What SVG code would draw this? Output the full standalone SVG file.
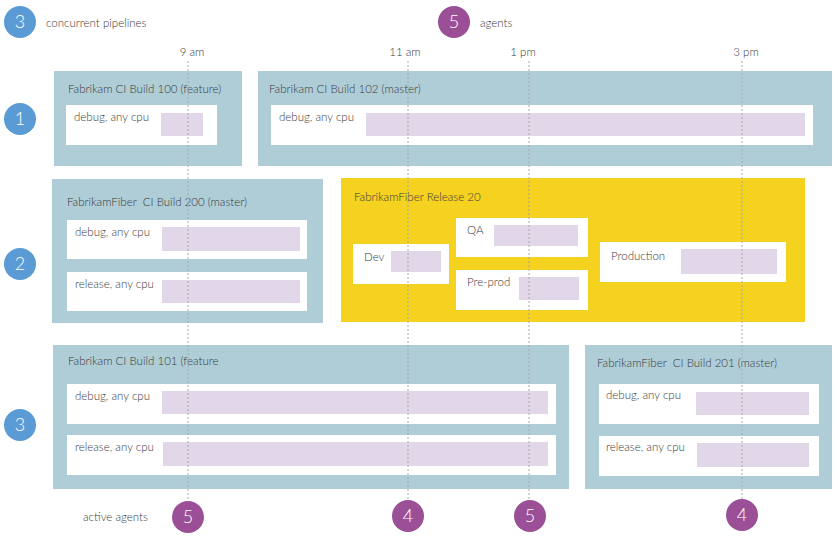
<svg xmlns="http://www.w3.org/2000/svg" width="838" height="538" viewBox="0 0 838 538">
  <style>
    text { font-family: Lato, "Open Sans", "Liberation Sans", sans-serif; font-size: 11.5px; font-weight: 300; fill: #3a3a3a; white-space: pre; }
    .num { fill: #fff; font-size: 18px; text-anchor: middle; }
    .time { text-anchor: middle; }
    .pipe { fill: #afcdd7; }
    .release { fill: #f5d120; }
    .job { fill: #fff; }
    .bar { fill: #e2d7e9; }
    .lane { fill: #5b9bd5; }
    .agent { fill: #9b4f96; }
    .marker { stroke: #a8a8a8; stroke-width: 1; stroke-dasharray: 2 2; fill: none; }
  </style>

  <!-- legend -->
  <g id="legend-pipelines">
    <circle class="lane" cx="20" cy="22" r="16"/>
    <text class="num" x="20" y="28">3</text>
    <text x="46" y="27">concurrent pipelines</text>
  </g>
  <g id="legend-agents">
    <circle class="agent" cx="454" cy="22" r="16"/>
    <text class="num" x="454" y="28">5</text>
    <text x="480" y="27">agents</text>
  </g>

  <!-- time axis labels -->
  <g id="time-labels">
    <text class="time" x="192" y="56">9 am</text>
    <text class="time" x="405" y="56">11 am</text>
    <text class="time" x="523" y="56">1 pm</text>
    <text class="time" x="746" y="56">3 pm</text>
  </g>

  <!-- lane numbers -->
  <g id="lane-1"><circle class="lane" cx="20" cy="119" r="16"/><text class="num" x="20" y="125">1</text></g>
  <g id="lane-2"><circle class="lane" cx="20" cy="264" r="16"/><text class="num" x="20" y="270">2</text></g>
  <g id="lane-3"><circle class="lane" cx="20" cy="425" r="16"/><text class="num" x="20" y="431">3</text></g>

  <!-- lane 1 -->
  <g id="build-100">
    <rect class="pipe" x="54" y="71" width="188" height="95"/>
    <text x="68" y="93">Fabrikam CI Build 100 (feature)</text>
    <rect class="job" x="66" y="105" width="151" height="40"/>
    <text x="74" y="121">debug, any cpu</text>
    <rect class="bar" x="161" y="113" width="42" height="23"/>
  </g>
  <g id="build-102">
    <rect class="pipe" x="258" y="71" width="574" height="95"/>
    <text x="269" y="93">Fabrikam CI Build 102 (master)</text>
    <rect class="job" x="271" y="105" width="542" height="40"/>
    <text x="279" y="121">debug, any cpu</text>
    <rect class="bar" x="366" y="113" width="439" height="23"/>
  </g>

  <!-- lane 2 -->
  <g id="build-200">
    <rect class="pipe" x="52" y="179" width="271" height="144"/>
    <text x="67" y="206">FabrikamFiber  CI Build 200 (master)</text>
    <rect class="job" x="67" y="220" width="240" height="39"/>
    <text x="75" y="236">debug, any cpu</text>
    <rect class="bar" x="162" y="227" width="138" height="24"/>
    <rect class="job" x="67" y="272" width="240" height="39"/>
    <text x="75" y="288">release, any cpu</text>
    <rect class="bar" x="162" y="280" width="138" height="23"/>
  </g>
  <g id="release-20">
    <rect class="release" x="341" y="178" width="464" height="144"/>
    <text x="354" y="201">FabrikamFiber Release 20</text>
    <g id="stage-dev">
      <rect class="job" x="353" y="244" width="96" height="40"/>
      <text x="364" y="261">Dev</text>
      <rect class="bar" x="391" y="251" width="50" height="21"/>
    </g>
    <g id="stage-qa">
      <rect class="job" x="456" y="218" width="132" height="39"/>
      <text x="467" y="234">QA</text>
      <rect class="bar" x="494" y="225" width="84" height="21"/>
    </g>
    <g id="stage-preprod">
      <rect class="job" x="456" y="270" width="132" height="40"/>
      <text x="467" y="286">Pre-prod</text>
      <rect class="bar" x="519" y="277" width="60" height="23"/>
    </g>
    <g id="stage-production">
      <rect class="job" x="600" y="242" width="186" height="40"/>
      <text x="611" y="260">Production</text>
      <rect class="bar" x="681" y="249" width="96" height="25"/>
    </g>
  </g>

  <!-- lane 3 -->
  <g id="build-101">
    <rect class="pipe" x="53" y="345" width="516" height="144"/>
    <text x="68" y="365">Fabrikam CI Build 101 (feature</text>
    <rect class="job" x="67" y="384" width="489" height="40"/>
    <text x="75" y="400">debug, any cpu</text>
    <rect class="bar" x="162" y="391" width="386" height="23"/>
    <rect class="job" x="67" y="435" width="489" height="40"/>
    <text x="75" y="451">release, any cpu</text>
    <rect class="bar" x="163" y="442" width="385" height="24"/>
  </g>
  <g id="build-201">
    <rect class="pipe" x="585" y="345" width="247" height="144"/>
    <text x="597" y="367">FabrikamFiber  CI Build 201 (master)</text>
    <rect class="job" x="599" y="384" width="220" height="40"/>
    <text x="606" y="399">debug, any cpu</text>
    <rect class="bar" x="696" y="392" width="113" height="23"/>
    <rect class="job" x="599" y="436" width="220" height="40"/>
    <text x="606" y="451">release, any cpu</text>
    <rect class="bar" x="697" y="443" width="112" height="24"/>
  </g>

  <!-- time markers -->
  <g id="connectors">
    <line class="marker" x1="188" y1="61" x2="188" y2="500"/>
    <line class="marker" x1="408" y1="61" x2="408" y2="500"/>
    <line class="marker" x1="529" y1="61" x2="529" y2="500"/>
    <line class="marker" x1="742" y1="61" x2="742" y2="499"/>
  </g>

  <!-- active agents per time -->
  <g id="active-agents">
    <text x="83" y="521">active agents</text>
  </g>
  <g id="agents-9am"><circle class="agent" cx="188" cy="517" r="16"/><text class="num" x="188" y="523">5</text></g>
  <g id="agents-11am"><circle class="agent" cx="408" cy="516" r="16"/><text class="num" x="408" y="522">4</text></g>
  <g id="agents-1pm"><circle class="agent" cx="530" cy="516" r="16"/><text class="num" x="530" y="522">5</text></g>
  <g id="agents-3pm"><circle class="agent" cx="742" cy="515" r="16"/><text class="num" x="742" y="521">4</text></g>
</svg>
